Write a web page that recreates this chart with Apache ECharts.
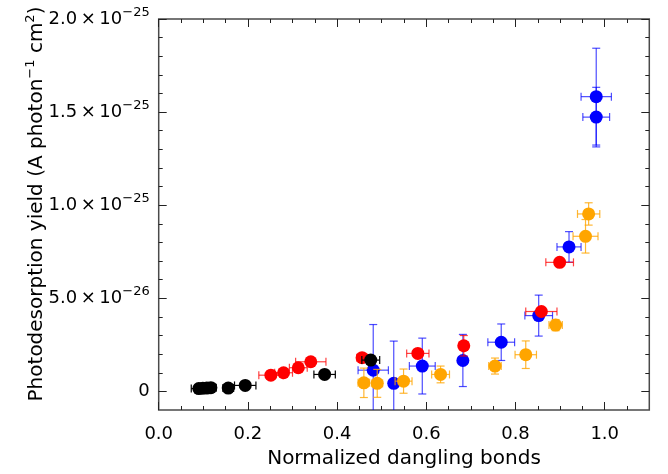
<!DOCTYPE html>
<html>
<head>
<meta charset="utf-8">
<script src="https://cdn.jsdelivr.net/npm/echarts@6/dist/echarts.min.js"></script>
<style>
  html, body { margin: 0; padding: 0; background: #ffffff; }
  #chart { width: 668px; height: 474px; }
</style>
</head>
<body>
<div id="chart"></div>
<script>
// Photodesorption yield vs. normalized dangling bonds.
// Yields are stored in units of 1e-26 A photon^-1 cm^2.

// Black set
const blackX    = [0.090, 0.099, 0.108, 0.117, 0.156, 0.194, 0.372, 0.4755];
const blackY    = [0.15, 0.17, 0.18, 0.20, 0.18, 0.32, 0.91, 1.68];
const blackXErr = [0.017, 0.012, 0.012, 0.012, 0.012, 0.024, 0.024, 0.020];
const blackYErr = [0.05, 0.05, 0.05, 0.05, 0.08, 0.10, 0.10, 0.10];

// Red set
const redX    = [0.2515, 0.280, 0.313, 0.341, 0.456, 0.581, 0.684, 0.858, 0.899];
const redY    = [0.87, 1.00, 1.27, 1.59, 1.81, 2.04, 2.45, 4.29, 6.93];
const redXErr = [0.027, 0.020, 0.020, 0.034, 0.012, 0.025, 0.010, 0.035, 0.031];
const redYErr = [0.10, 0.10, 0.10, 0.10, 0.10, 0.10, 0.55, 0.20, 0.20];

// Blue set
const blueX    = [0.481, 0.527, 0.591, 0.682, 0.768, 0.852, 0.920, 0.981, 0.981];
const blueY    = [1.14, 0.43, 1.36, 1.66, 2.64, 4.07, 7.76, 14.73, 15.83];
const blueXErr = [0.034, 0.010, 0.029, 0.010, 0.030, 0.031, 0.027, 0.030, 0.034];
const blueYErr = [2.45, 2.27, 1.50, 1.40, 0.98, 1.10, 0.82, 1.60, 2.60];

// Orange set
const orangeX    = [0.460, 0.490, 0.549, 0.632, 0.754, 0.823, 0.890, 0.957, 0.964];
const orangeY    = [0.46, 0.43, 0.55, 0.91, 1.36, 1.97, 3.56, 8.33, 9.53];
const orangeXErr = [0.013, 0.012, 0.019, 0.020, 0.014, 0.024, 0.015, 0.028, 0.025];
const orangeYErr = [0.79, 0.75, 0.65, 0.45, 0.43, 0.74, 0.30, 0.90, 0.60];

// Axis ticks (y in units of 1e-26)
const xMajorTicks = [0, 0.2, 0.4, 0.6, 0.8, 1.0];
const xMinorTicks = [0.05, 0.1, 0.15, 0.25, 0.3, 0.35, 0.45, 0.5, 0.55,
                     0.65, 0.7, 0.75, 0.85, 0.9, 0.95, 1.05];
const yMajorTicks = [0, 5, 10, 15, 20];
const yMinorTicks = [1, 2, 3, 4, 6, 7, 8, 9, 11, 12, 13, 14, 16, 17, 18, 19];

const X_MIN = 0, X_MAX = 1.1;
const Y_MIN = -1, Y_MAX = 20;

const FONT = 'DejaVu Sans';
const FRAME = '#4a4a4a';
const TICK = '#222222';

function sciLabel(v) {
  if (v === 0) return '{t|0}';
  const e = Math.floor(Math.log10(v));
  const m = v / Math.pow(10, e);
  return '{t|' + m.toFixed(1) + '\u2009\u00d7\u200910}{s|\u2212' + (26 - e) + '}';
}

const richLabel = {
  t: { fontFamily: FONT, fontSize: 18, color: '#000', lineHeight: 26, verticalAlign: 'middle' },
  s: { fontFamily: FONT, fontSize: 13, color: '#000', verticalAlign: 'top' }
};

function tickStyle(values, len) {
  return { show: true, inside: true, length: len, customValues: values,
           lineStyle: { color: TICK, width: 1 } };
}

// One axis per side carries the major ticks, a second one the minor ticks.
function axisDef(dim, position, ticks, len, extra) {
  return Object.assign({
    type: 'value',
    gridIndex: 0,
    position: position,
    offset: 0,
    min: dim === 'x' ? X_MIN : Y_MIN,
    max: dim === 'x' ? X_MAX : Y_MAX,
    splitLine: { show: false },
    axisLine: { show: false, onZero: false },
    axisLabel: { show: false },
    axisTick: tickStyle(ticks, len)
  }, extra || {});
}

function errorBars(name, color, xs, ys, xe, ye, z) {
  return {
    type: 'custom',
    name: name,
    z: z,
    silent: true,
    xAxisIndex: 0,
    yAxisIndex: 0,
    encode: { x: 0, y: 1 },
    data: xs.map((x, i) => [x, ys[i], xe[i], ye[i]]),
    renderItem: function (params, api) {
      const x = api.value(0), y = api.value(1);
      const dx = api.value(2), dy = api.value(3);
      const cs = params.coordSys;
      const top = cs.y, bottom = cs.y + cs.height;
      const c = api.coord([x, y]);
      const yHi = api.coord([x, y + dy])[1];
      const yLo = api.coord([x, y - dy])[1];
      const xLo = api.coord([x - dx, y])[0];
      const xHi = api.coord([x + dx, y])[0];
      const cap = 4;
      const style = { stroke: color, lineWidth: 1.2, fill: null };
      const children = [];
      const seg = (x1, y1, x2, y2) => children.push({ type: 'line', shape: { x1, y1, x2, y2 }, style: style });
      seg(c[0], Math.max(yHi, top), c[0], Math.min(yLo, bottom));
      if (yHi >= top) seg(c[0] - cap, yHi, c[0] + cap, yHi);
      if (yLo <= bottom) seg(c[0] - cap, yLo, c[0] + cap, yLo);
      seg(xLo, c[1], xHi, c[1]);
      seg(xLo, c[1] - cap, xLo, c[1] + cap);
      seg(xHi, c[1] - cap, xHi, c[1] + cap);
      return { type: 'group', children: children };
    }
  };
}

function points(name, color, xs, ys, z) {
  return {
    type: 'scatter',
    name: name,
    z: z,
    xAxisIndex: 0,
    yAxisIndex: 0,
    symbol: 'circle',
    symbolSize: 13,
    itemStyle: { color: color, opacity: 1 },
    data: xs.map((x, i) => [x, ys[i]])
  };
}

const chart = echarts.init(document.getElementById('chart'), null, { renderer: 'canvas' });

chart.setOption({
  animation: false,
  backgroundColor: '#ffffff',
  grid: {
    left: 158.7, right: 18.7, top: 19, bottom: 63, containLabel: false,
    show: true, borderColor: FRAME, borderWidth: 1.5, backgroundColor: 'transparent'
  },
  xAxis: [
    axisDef('x', 'bottom', xMajorTicks, 8, {
      axisLabel: {
        show: true, customValues: xMajorTicks, margin: 15,
        fontFamily: FONT, fontSize: 18, color: '#000',
        formatter: v => v.toFixed(1)
      },
      name: 'Normalized dangling bonds',
      nameLocation: 'middle',
      nameGap: 39,
      nameTextStyle: { fontFamily: FONT, fontSize: 20, color: '#000' }
    }),
    axisDef('x', 'top', xMajorTicks, 8),
    axisDef('x', 'bottom', xMinorTicks, 4),
    axisDef('x', 'top', xMinorTicks, 4)
  ],
  yAxis: [
    axisDef('y', 'left', yMajorTicks, 8, {
      axisLabel: {
        show: true, customValues: yMajorTicks, margin: 9,
        formatter: sciLabel, rich: richLabel
      }
    }),
    axisDef('y', 'right', yMajorTicks, 8),
    axisDef('y', 'left', yMinorTicks, 4),
    axisDef('y', 'right', yMinorTicks, 4)
  ],
  graphic: [{
    type: 'text',
    x: 37,
    y: 204,
    rotation: Math.PI / 2,
    silent: true,
    style: {
      text: '{t|Photodesorption yield (A photon}{s|\u22121}{t| cm}{s|2}{t|)}',
      align: 'center',
      verticalAlign: 'middle',
      rich: {
        t: { fontFamily: FONT, fontSize: 20, fill: '#000', lineHeight: 26, verticalAlign: 'middle' },
        s: { fontFamily: FONT, fontSize: 13, fill: '#000', verticalAlign: 'top' }
      }
    }
  }],
  series: [
    errorBars('blueErr', 'rgba(0,0,255,0.7)', blueX, blueY, blueXErr, blueYErr, 2),
    points('blue', '#0000ff', blueX, blueY, 3),
    errorBars('orangeErr', 'rgba(255,165,0,0.8)', orangeX, orangeY, orangeXErr, orangeYErr, 4),
    points('orange', '#ffa500', orangeX, orangeY, 5),
    errorBars('redErr', 'rgba(255,0,0,0.75)', redX, redY, redXErr, redYErr, 6),
    points('red', '#ff0000', redX, redY, 7),
    errorBars('blackErr', '#000000', blackX, blackY, blackXErr, blackYErr, 8),
    points('black', '#000000', blackX, blackY, 9)
  ]
});
</script>
</body>
</html>
